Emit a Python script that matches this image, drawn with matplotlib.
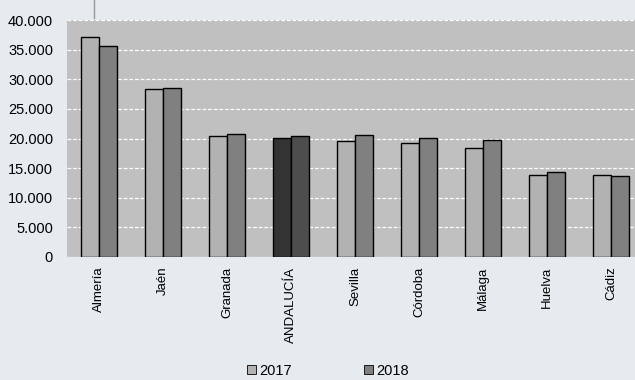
import numpy as np
import matplotlib
matplotlib.use("Agg")
import matplotlib.pyplot as plt
from matplotlib.ticker import FuncFormatter
from matplotlib.patches import Patch

# Data
provincias = ["Almería", "Jaén", "Granada", "ANDALUCÍA", "Sevilla",
              "Córdoba", "Málaga", "Huelva", "Cádiz"]
valores_2017 = [37130, 28300, 20480, 20030, 19580, 19190, 18400, 13790, 13790]
valores_2018 = [35560, 28470, 20810, 20480, 20590, 20030, 19690, 14290, 13730]
yticks = [0, 5000, 10000, 15000, 20000, 25000, 30000, 35000, 40000]

plt.rcParams['font.family'] = ['Liberation Sans', 'DejaVu Sans']

W, H = 635, 380
fig = plt.figure(figsize=(W / 100, H / 100), dpi=100)
fig.patch.set_facecolor("#E6EBEF")

# axes runs past the right edge, as in the reference
ax = fig.add_axes([67 / W, (H - 257) / H, 576 / W, 237 / H])
ax.set_facecolor("#C0C0C0")

x = np.arange(len(provincias))
bw = 0.285
c17 = ["#B2B2B2"] * len(provincias)
c18 = ["#808080"] * len(provincias)
i_and = provincias.index("ANDALUCÍA")
c17[i_and] = "#333333"
c18[i_and] = "#4D4D4D"

ax.bar(x - bw / 2, valores_2017, bw, color=c17, edgecolor="black", linewidth=1, zorder=3)
ax.bar(x + bw / 2, valores_2018, bw, color=c18, edgecolor="black", linewidth=1, zorder=3)

ax.set_xlim(-0.5, len(provincias) - 0.5)
ax.set_ylim(0, 40000)
ax.set_yticks(yticks)
ax.yaxis.set_major_formatter(FuncFormatter(lambda v, p: f"{int(v):,}".replace(",", ".")))
ax.grid(axis="y", color="white", linestyle=(0, (3, 1.5)), linewidth=0.9, zorder=1)
ax.axhline(0, color="#D8D8D8", linestyle=(0, (2, 1)), linewidth=1, zorder=2)

for s in ax.spines.values():
    s.set_visible(False)

ax.set_xticks(x)
ax.set_xticklabels(provincias, rotation=90, fontsize=9.5, va="top")
ax.tick_params(axis="x", length=0, pad=7)
ax.tick_params(axis="y", length=0, labelsize=10.5, pad=10)

# small grey line at the top
fig.add_artist(plt.Line2D([94 / W, 94 / W], [1, (H - 18) / H], color="#999999", linewidth=1))

handles = [Patch(facecolor="#B2B2B2", edgecolor="black", linewidth=0.6),
           Patch(facecolor="#808080", edgecolor="black", linewidth=0.6)]
fig.legend(handles, ["2017", "2018"], loc="center", bbox_to_anchor=(328 / W, 1 - 371 / H),
           ncol=2, frameon=False, fontsize=10.5, handlelength=0.6, handleheight=0.6,
           handletextpad=0.2, columnspacing=5.0, borderaxespad=0, borderpad=0)

fig.savefig("out.png", dpi=100, facecolor=fig.get_facecolor())
